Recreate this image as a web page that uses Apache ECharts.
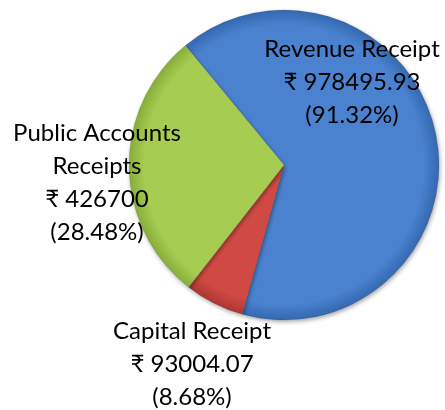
<!DOCTYPE html>
<html>
<head>
<meta charset="utf-8">
<script src="https://cdn.jsdelivr.net/npm/echarts@6/dist/echarts.min.js"></script>
<style>
  html, body { margin: 0; padding: 0; background: #fff; }
  #pie_show { width: 445px; height: 410px; }
</style>
</head>
<body>
<div id="pie_show"></div>
<script>
// 数据
var aNames = ['Revenue Receipt', 'Capital Receipt', 'Public Accounts\nReceipts'];
var aValues = [978495.93, 93004.07, 426700];
var aValueText = ['978495.93', '93004.07', '426700'];
var aPercent = ['91.32%', '8.68%', '28.48%'];

// 颜色 (中心, 边缘)
var aColors = [['#4a82d0', '#3569b0'], ['#d04a43', '#ac3631'], ['#a6cd52', '#88ad3a']];
// 标签位置
var aLabelPos = [[352, 82], [192, 364], [97, 183]];

var cx = 284, cy = 165, r = 155;

var series_data = [];
for (var i = 0; i < aNames.length; i++) {
    series_data.push({
        name: aNames[i],
        value: aValues[i],
        itemStyle: {
            // 全局坐标的径向渐变, 边缘稍暗
            color: new echarts.graphic.RadialGradient(cx, cy, r, [
                { offset: 0, color: aColors[i][0] },
                { offset: 0.9, color: aColors[i][0] },
                { offset: 1, color: aColors[i][1] }
            ], true)
        }
    });
}

var oPie = echarts.init(document.getElementById('pie_show'));
var oPieopt = {
    animation: false,
    series: [
        {
            type: 'pie',
            center: [cx, cy],
            radius: r,
            startAngle: 129.5,
            clockwise: true,
            itemStyle: {
                borderColor: 'rgba(0,0,0,0.15)',
                borderWidth: 0.6,
                shadowBlur: 4,
                shadowColor: 'rgba(0,0,0,0.35)',
                shadowOffsetX: 1,
                shadowOffsetY: 2
            },
            label: {
                show: true,
                position: 'inside',
                color: '#000',
                fontFamily: 'Lato, "Open Sans", sans-serif',
                fontSize: 24,
                lineHeight: 33,
                align: 'center',
                formatter: function (p) {
                    var k = p.dataIndex;
                    return aNames[k] + '\n\u20B9 ' + aValueText[k] + '\n(' + aPercent[k] + ')';
                }
            },
            labelLine: { show: false },
            labelLayout: function (params) {
                var pos = aLabelPos[params.dataIndex];
                return { x: pos[0], y: pos[1], align: 'center', verticalAlign: 'middle' };
            },
            data: series_data
        }
    ]
};
oPie.setOption(oPieopt);
</script>
</body>
</html>
